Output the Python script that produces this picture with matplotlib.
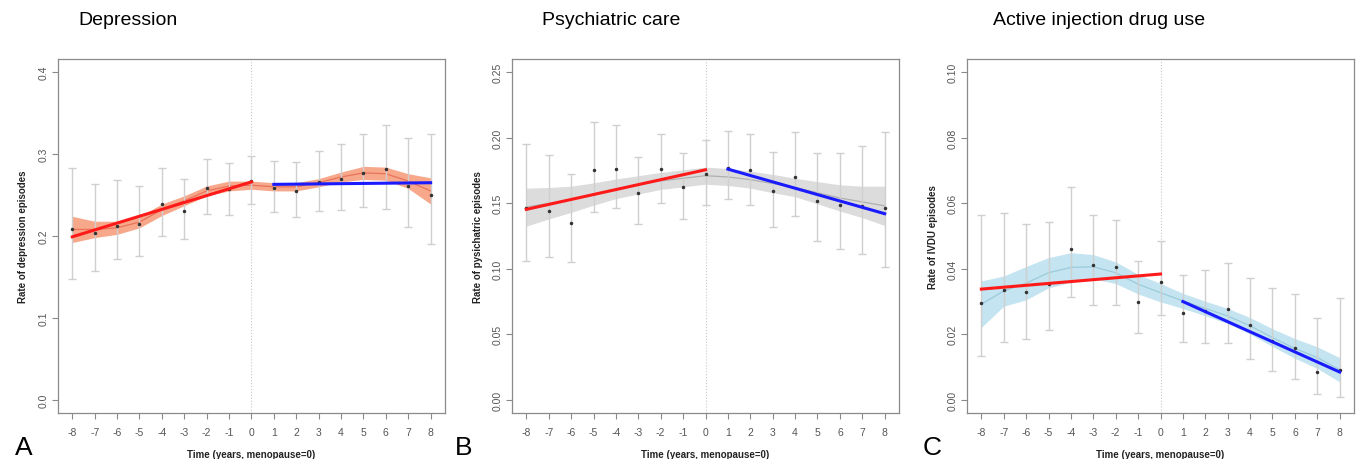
import numpy as np
import matplotlib.pyplot as plt

plt.rcParams['font.family'] = ['Liberation Sans', 'DejaVu Sans']
plt.rcParams['axes.unicode_minus'] = False

years = np.arange(-8, 9)

# A - depression
dep_rate = [0.208, 0.204, 0.212, 0.215, 0.239, 0.231, 0.259, 0.257, 0.267,
            0.259, 0.255, 0.266, 0.270, 0.277, 0.282, 0.261, 0.250]
dep_hi = [0.283, 0.263, 0.268, 0.261, 0.283, 0.270, 0.294, 0.289, 0.298,
          0.291, 0.290, 0.304, 0.312, 0.325, 0.335, 0.320, 0.324]
dep_lo = [0.148, 0.157, 0.172, 0.175, 0.200, 0.196, 0.227, 0.226, 0.239,
          0.229, 0.223, 0.231, 0.232, 0.235, 0.233, 0.211, 0.190]
dep_smooth = [0.208, 0.208, 0.210, 0.217, 0.232, 0.243, 0.255, 0.261, 0.262,
              0.260, 0.260, 0.265, 0.272, 0.277, 0.276, 0.267, 0.255]
dep_band = [0.016, 0.010, 0.008, 0.007, 0.007, 0.006, 0.006, 0.006, 0.005,
            0.005, 0.005, 0.005, 0.006, 0.008, 0.008, 0.009, 0.016]
dep_pre = [0.199, 0.266]
dep_post = [0.263, 0.265]

# B - psychiatric care
psy_rate = [0.146, 0.144, 0.135, 0.175, 0.176, 0.158, 0.176, 0.162, 0.172,
            0.177, 0.175, 0.159, 0.170, 0.152, 0.149, 0.148, 0.146]
psy_hi = [0.195, 0.187, 0.172, 0.212, 0.210, 0.185, 0.203, 0.188, 0.198,
          0.205, 0.203, 0.189, 0.204, 0.188, 0.188, 0.194, 0.204]
psy_lo = [0.106, 0.109, 0.105, 0.143, 0.146, 0.134, 0.150, 0.138, 0.149,
          0.153, 0.149, 0.132, 0.140, 0.121, 0.115, 0.111, 0.101]
psy_smooth = [0.147, 0.150, 0.153, 0.157, 0.161, 0.164, 0.167, 0.169, 0.171,
              0.170, 0.168, 0.165, 0.162, 0.158, 0.154, 0.151, 0.148]
psy_band = [0.0145, 0.012, 0.010, 0.0085, 0.0075, 0.007, 0.0065, 0.0065, 0.0065,
            0.0065, 0.0065, 0.007, 0.007, 0.0085, 0.010, 0.012, 0.015]
psy_pre = [0.1453, 0.1755]
psy_post = [0.176, 0.142]

# C - injection drug use
ivdu_rate = [0.0297, 0.0335, 0.033, 0.0355, 0.046, 0.0412, 0.0405, 0.030, 0.036,
             0.0266, 0.027, 0.0278, 0.0228, 0.018, 0.0158, 0.0085, 0.009]
ivdu_hi = [0.0563, 0.057, 0.0536, 0.0543, 0.065, 0.0565, 0.0549, 0.0424, 0.0485,
           0.0382, 0.0395, 0.0418, 0.0371, 0.034, 0.0322, 0.0251, 0.031]
ivdu_lo = [0.0134, 0.0177, 0.0187, 0.0213, 0.0315, 0.029, 0.0288, 0.0203, 0.0258,
           0.0177, 0.0173, 0.0173, 0.0126, 0.0088, 0.0063, 0.0017, 0.001]
ivdu_smooth = [0.0292, 0.0332, 0.0356, 0.0388, 0.0404, 0.0406, 0.0388, 0.0353, 0.0327,
               0.0302, 0.0279, 0.0256, 0.0226, 0.019, 0.0157, 0.0129, 0.0092]
ivdu_band = [0.0071, 0.0046, 0.0051, 0.0046, 0.0045, 0.0037, 0.0033, 0.003, 0.0028,
             0.0023, 0.0022, 0.0023, 0.0025, 0.0027, 0.003, 0.0033, 0.0037]
ivdu_pre = [0.0338, 0.0384]
ivdu_post = [0.030, 0.0085]

fig = plt.figure(figsize=(13.57, 4.6), dpi=100)


def panel(left, rate, hi, lo, smooth, band, pre, post, ymax, yticks, yfmt,
          ylabel, band_col, line_col):
    ax = fig.add_axes([left, 0.1, 0.2852, 0.7696])
    rate = np.array(rate)
    smooth = np.array(smooth)
    band = np.array(band)
    ax.axvline(0, color='#c8c8c8', lw=0.8, ls=':', zorder=1)
    ax.fill_between(years, smooth - band, smooth + band, color=band_col, lw=0, zorder=2)
    ax.plot(years, smooth, color=line_col, lw=0.9, zorder=3)
    ax.errorbar(years, rate, yerr=[rate - np.array(lo), np.array(hi) - rate],
                fmt='none', ecolor='#cfcfcf', elinewidth=1, capsize=3, capthick=1, zorder=4)
    ax.plot(years, rate, 'o', color='#333333', ms=1.5, zorder=5)
    ax.plot([-8, 0], pre, color='#ff1a1a', lw=2.2, zorder=6)
    ax.plot([1, 8], post, color='#1a1aff', lw=2.2, zorder=6)
    ax.set_xlim(-8.64, 8.64)
    ax.set_ylim(-ymax * 0.04, ymax * 1.04)
    ax.set_xticks(years)
    ax.set_yticks(yticks)
    ax.set_yticklabels([yfmt.format(v) for v in yticks], rotation=90, va='center')
    for s in ax.spines.values():
        s.set_color('#8a8a8a')
        s.set_linewidth(0.9)
    ax.tick_params(colors='#8a8a8a', labelcolor='#555555', labelsize=7.5, length=4, width=0.8)
    ax.tick_params(axis='x', pad=6)
    ax.tick_params(axis='y', pad=3)
    ax.set_xlabel('Time (years, menopause=0)', fontsize=7, fontweight='bold', color='#222222', labelpad=9)
    ax.set_ylabel(ylabel, fontsize=7, fontweight='bold', color='#222222', labelpad=7)
    return ax


panel(0.0427, dep_rate, dep_hi, dep_lo, dep_smooth, dep_band, dep_pre, dep_post,
      0.4, [0.0, 0.1, 0.2, 0.3, 0.4], '{:.1f}', 'Rate of depression episodes',
      '#f7a78a', '#e8735a')
panel(0.3773, psy_rate, psy_hi, psy_lo, psy_smooth, psy_band, psy_pre, psy_post,
      0.25, [0.0, 0.05, 0.1, 0.15, 0.2, 0.25], '{:.2f}', 'Rate of pysichatric episodes',
      '#dcdcdc', '#b0b0b0')
panel(0.7126, ivdu_rate, ivdu_hi, ivdu_lo, ivdu_smooth, ivdu_band, ivdu_pre, ivdu_post,
      0.1, [0.0, 0.02, 0.04, 0.06, 0.08, 0.1], '{:.2f}', 'Rate of IVDU episodes',
      '#c3e4f0', '#9ccbdc')

fig.text(0.0575, 0.955, 'Depression', fontsize=14, va='center')
fig.text(0.3995, 0.955, 'Psychiatric care', fontsize=14, va='center')
fig.text(0.7318, 0.955, 'Active injection drug use', fontsize=14, va='center')

fig.text(0.011, 0.0, 'A', fontsize=19, va='bottom')
fig.text(0.335, 0.0, 'B', fontsize=19, va='bottom')
fig.text(0.680, 0.0, 'C', fontsize=19, va='bottom')

fig.savefig('out.png', dpi=100)
